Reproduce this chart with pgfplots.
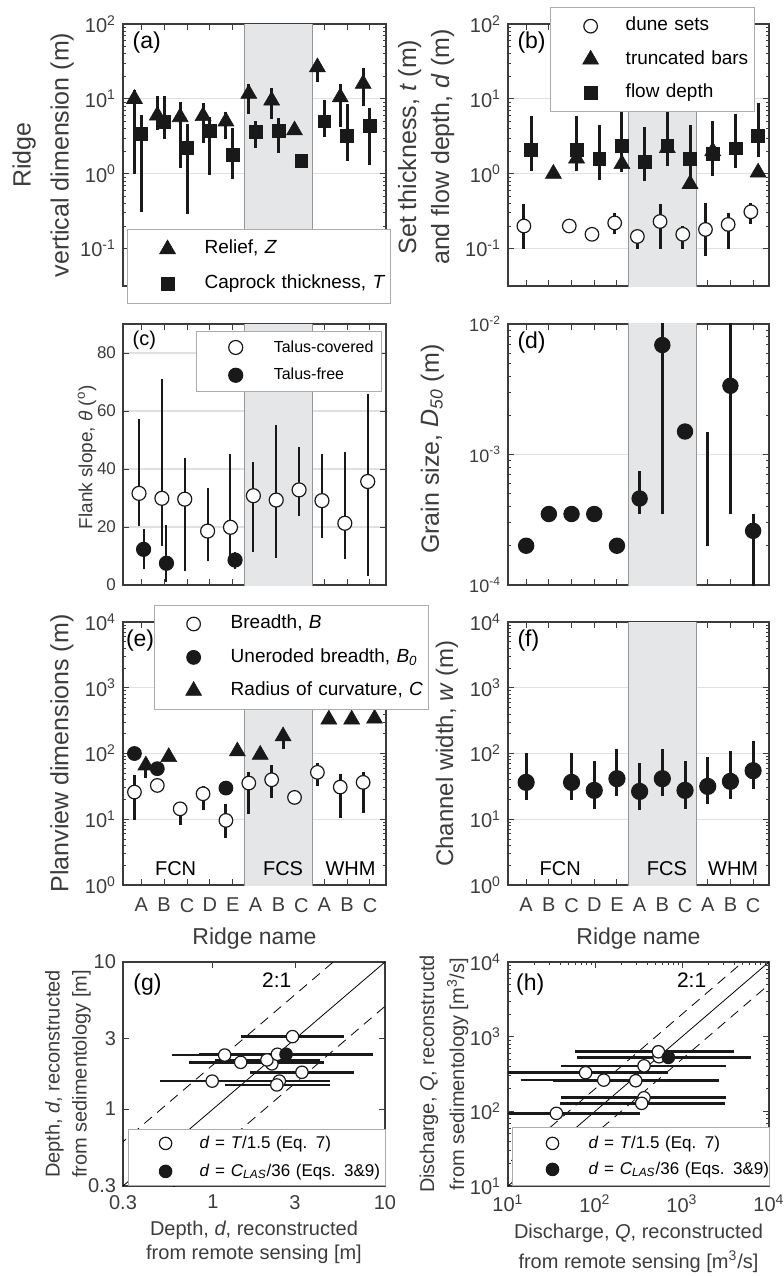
\documentclass[border=0pt]{standalone}
\usepackage{fontspec}
\setmainfont{Liberation Sans}
\usepackage{pgfplots}
\pgfplotsset{compat=1.18}

\definecolor{axcol}{RGB}{60,60,60}
\definecolor{mk}{RGB}{25,25,25}
\definecolor{bandc}{RGB}{229,230,232}
\definecolor{bandedge}{RGB}{150,150,150}
\newcommand{\tp}[1]{10\textsuperscript{#1}}
\newcommand{\fs}[2]{\fontsize{#1}{#2}\selectfont}

\pgfplotsset{
  layers/mylayers/.define layer set={axis background,axis grid,main,axis ticks,axis lines,axis tick labels,axis descriptions,axis foreground}{},
  panel/.style={scale only axis, set layers=mylayers, anchor=south west,
    axis line style={draw=axcol, line width=0.75pt},
    major tick style={draw=axcol, line width=0.5pt},
    minor tick style={draw=axcol, line width=0.4pt},
    tick align=inside, major tick length=3pt, minor tick length=1.6pt,
    tick label style={text=axcol, font=\fs{10}{12}},
    label style={text=axcol, align=center},
    y label style={anchor=center},
    x label style={anchor=center},
    grid style={draw=black!12, line width=0.6pt},
    /pgf/number format/assume math mode=true,
    unbounded coords=jump,
    legend cell align=left,
    legend style={draw=gray!65, line width=0.5pt, fill=white, text=black,
      inner xsep=0pt, anchor=north west},
  },
  cat/.style={xmin=0.2, xmax=11.7, xtick={1,...,11}, xticklabels={}, ymajorgrids},
  bars/.style={draw=mk, line width=1.5pt, mark=none, forget plot},
  band/.style={fill=bandc, draw=bandedge, line width=0.5pt, mark=none, forget plot},
  wcirc/.style={only marks, mark=*, mark size=3.4pt, mark options={solid, fill=white, draw=mk, line width=0.6pt}},
  bcirc/.style={only marks, mark=*, mark size=3.4pt, mark options={solid, fill=mk, draw=mk, line width=0.6pt}},
  tri/.style={only marks, mark=triangle*, mark size=4.6pt, mark options={solid, fill=mk, draw=mk, line width=0.3pt}},
  sq/.style={only marks, mark=square*, mark size=3.2pt, mark options={solid, fill=mk, draw=mk, line width=0.3pt}},
  % legend sample: invisible spacer #1 to the left and #2 to the right of the marker
  lg/.style 2 args={legend image code/.code={\draw[draw opacity=0, line width=0.1pt] (-#1,0pt) -- (#2,0pt); \draw[##1, draw=none] plot coordinates {(0pt,0pt)};}},
}

\begin{document}
\begin{tikzpicture}

% ---------------- (a) ----------------
\begin{axis}[panel, cat, at={(61.5pt,-143pt)}, width=131.5pt, height=131pt,
    ymode=log, ymin=0.0316, ymax=100,
    ytick={0.1,1,10,100}, yticklabels={\tp{-1},\tp{0},\tp{1},\tp{2}},
    ylabel={Ridge\\vertical dimension (m)},
    y label style={at={(axis description cs:-0.304,0.5)}, font=\fs{12.5}{19}},
    legend style={at={(0.015,0.2176)}, inner ysep=5pt, row sep=7.8pt, font=\fs{9.5}{11},
      nodes={inner sep=0pt, text height=0.72em, text depth=0.25em, text width=93pt, align=left}},
  ]
  \addplot[band] coordinates {(5.5,1e-5) (5.5,1e5) (8.5,1e5) (8.5,1e-5) (5.5,1e-5)};
  \addplot[bars] coordinates {(0.7,1.0) (0.7,13) (0.7,nan) (1.7,3.8) (1.7,11) (1.7,nan)
    (2.7,1.2) (2.7,9) (2.7,nan) (3.7,2.6) (3.7,8.8) (3.7,nan) (4.7,2.9) (4.7,6.6) (4.7,nan)
    (5.7,6.3) (5.7,16) (5.7,nan) (6.7,5.4) (6.7,14) (6.7,nan) (8.7,16.7) (8.7,33) (8.7,nan)
    (9.7,4.2) (9.7,16) (9.7,nan) (10.7,8.1) (10.7,25.7)};
  \addplot[bars] coordinates {(1,0.31) (1,6.1) (1,nan) (2,2.9) (2,11) (2,nan) (3,0.29) (3,4.6) (3,nan)
    (4,0.97) (4,5.7) (4,nan) (5,0.85) (5,4.1) (5,nan) (6,2.2) (6,5.0) (6,nan) (7,1.9) (7,5.6) (7,nan)
    (9,3.07) (9,9.7) (9,nan) (10,1.5) (10,8.6) (10,nan) (11,1.3) (11,7.6)};
  \addplot[tri, lg={20pt}{18.5pt}] coordinates {(0.7,10) (1.7,6.0) (2.7,5.7) (3.7,5.9) (4.7,5.0)
    (5.7,11.7) (6.7,9.5) (7.7,3.8) (8.7,26.5) (9.7,10.5) (10.7,15.9)};
  \addlegendentry{Relief, \textit{Z}}
  \addplot[sq, lg={20pt}{18.5pt}] coordinates {(1,3.4) (2,4.9) (3,2.2) (4,3.7) (5,1.8) (6,3.6)
    (7,3.7) (8,1.5) (9,5.0) (10,3.2) (11,4.4)};
  \addlegendentry{Caprock thickness, \textit{T}}
  \node[anchor=north west, inner sep=0pt, font=\fs{11.5}{13}] at (rel axis cs:0.035,0.97) {(a)};
\end{axis}

% ---------------- (b) ----------------
\begin{axis}[panel, cat, at={(254pt,-143pt)}, width=130.5pt, height=131pt,
    ymode=log, ymin=0.0316, ymax=100,
    ytick={0.1,1,10,100}, yticklabels={\tp{-1},\tp{0},\tp{1},\tp{2}},
    ylabel={Set thickness, \textit{t} (m)\\and flow depth, \textit{d} (m)},
    y label style={at={(axis description cs:-0.314,0.53)}, font=\fs{12.5}{16.5}},
    legend style={at={(0.161,1.065)}, inner ysep=4.5pt, row sep=7pt, font=\fs{9.5}{11},
      nodes={inner sep=0pt, text height=0.72em, text depth=0.25em, text width=64.5pt, align=left}},
  ]
  \addplot[band] coordinates {(5.5,1e-5) (5.5,1e5) (8.5,1e5) (8.5,1e-5) (5.5,1e-5)};
  \addplot[bars] coordinates {(0.9,0.1) (0.9,0.39) (0.9,nan) (4.9,0.155) (4.9,0.3) (4.9,nan)
    (5.9,0.1) (5.9,0.16) (5.9,nan) (6.9,0.1) (6.9,0.39) (6.9,nan) (7.9,0.1) (7.9,0.2) (7.9,nan)
    (8.9,0.08) (8.9,0.41) (8.9,nan) (9.9,0.1) (9.9,0.3) (9.9,nan) (10.9,0.21) (10.9,0.41)};
  \addplot[bars] coordinates {(1.22,1.1) (1.22,5.9) (1.22,nan) (3.22,1.1) (3.22,5.9) (3.22,nan)
    (4.22,0.83) (4.22,4.5) (4.22,nan) (5.22,1.05) (5.22,6.6) (5.22,nan) (6.22,0.79) (6.22,4.2) (6.22,nan)
    (7.22,1.25) (7.22,6.6) (7.22,nan) (8.22,0.8) (8.22,4.5) (8.22,nan) (9.22,0.94) (9.22,5.0) (9.22,nan)
    (10.22,1.18) (10.22,6.2) (10.22,nan) (11.22,1.67) (11.22,8.7)};
  \addplot[wcirc, lg={20pt}{17.5pt}] coordinates {(0.9,0.2) (2.9,0.2) (3.9,0.155) (4.9,0.22)
    (5.9,0.145) (6.9,0.23) (7.9,0.155) (8.9,0.18) (9.9,0.21) (10.9,0.31)};
  \addlegendentry{dune sets}
  \addplot[sq, forget plot] coordinates {(1.22,2.07) (3.22,2.07) (4.22,1.57) (5.22,2.37) (6.22,1.46)
    (7.22,2.37) (8.22,1.57) (9.22,1.83) (10.22,2.18) (11.22,3.2)};
  \addplot[tri, lg={20pt}{17.5pt}] coordinates {(2.2,1.0) (3.22,1.6) (5.22,1.35) (7.22,2.2)
    (8.22,0.73) (9.22,2.0) (11.22,1.04)};
  \addlegendentry{truncated bars}
  \addlegendimage{sq, lg={20pt}{17.5pt}}
  \addlegendentry{flow depth}
  \node[anchor=north west, inner sep=0pt, font=\fs{11.5}{13}] at (rel axis cs:0.035,0.97) {(b)};
\end{axis}

% ---------------- (c) ----------------
\begin{axis}[panel, cat, at={(61.5pt,-292.5pt)}, width=131.5pt, height=130.5pt,
    ymin=0, ymax=90, ytick={0,20,40,60,80},
    tick label style={font=\fs{8.5}{10}},
    ylabel={Flank slope, \textit{θ} (\textsuperscript{o})},
    y label style={at={(axis description cs:-0.137,0.49)}, font=\fs{9.5}{11}},
    legend style={at={(0.278,0.973)}, inner ysep=3.1pt, row sep=4.2pt, font=\fs{8}{9.5},
      nodes={inner sep=0pt, text height=0.72em, text depth=0.25em, text width=54pt, align=left}},
  ]
  \addplot[band] coordinates {(5.5,-10) (5.5,200) (8.5,200) (8.5,-10) (5.5,-10)};
  \addplot[bars, line width=1pt] coordinates {(0.9,20.4) (0.9,57.3) (0.9,nan) (1.9,13.6) (1.9,71) (1.9,nan)
    (2.9,4.9) (2.9,43.7) (2.9,nan) (3.9,8.4) (3.9,33.4) (3.9,nan) (4.9,9) (4.9,45.2) (4.9,nan)
    (5.9,11.3) (5.9,42.3) (5.9,nan) (6.9,9.4) (6.9,55.2) (6.9,nan) (7.9,23.9) (7.9,47.5) (7.9,nan)
    (8.9,16.3) (8.9,45.2) (8.9,nan) (9.9,8.9) (9.9,46) (9.9,nan) (10.9,3.2) (10.9,65.8)};
  \addplot[bars, line width=1pt] coordinates {(1.1,5.4) (1.1,19.3) (1.1,nan) (2.1,1.2) (2.1,20.7) (2.1,nan)
    (5.1,5.5) (5.1,11.3)};
  \addplot[wcirc, mark size=3.5pt, lg={19.5pt}{19pt}] coordinates {(0.9,31.6) (1.9,29.9) (2.9,29.6)
    (3.9,18.6) (4.9,19.9) (5.9,30.8) (6.9,29.3) (7.9,32.8) (8.9,29.1) (9.9,21.3) (10.9,35.7)};
  \addlegendentry{Talus-covered}
  \addplot[bcirc, mark size=3.5pt, lg={19.5pt}{19pt}] coordinates {(1.1,12.3) (2.1,7.5) (5.1,8.6)};
  \addlegendentry{Talus-free}
  \node[anchor=north west, inner sep=0pt, font=\fs{10}{12}] at (rel axis cs:0.035,0.975) {(c)};
\end{axis}

% ---------------- (d) ----------------
\begin{axis}[panel, cat, at={(254pt,-292.5pt)}, width=130.5pt, height=130.5pt,
    ymode=log, ymin=1e-4, ymax=1e-2,
    ytick={1e-4,1e-3,1e-2}, yticklabels={\tp{-4},\tp{-3},\tp{-2}},
    tick label style={font=\fs{9}{11}},
    ylabel={Grain size, \textit{D}\textsubscript{\textit{50}} (m)},
    y label style={at={(axis description cs:-0.29,0.52)}, font=\fs{12.5}{14}},
  ]
  \addplot[band] coordinates {(5.5,1e-6) (5.5,1) (8.5,1) (8.5,1e-6) (5.5,1e-6)};
  \addplot[bars] coordinates {(6,3.5e-4) (6,7.5e-4) (6,nan) (7,3.5e-4) (7,2e-2) (7,nan)
    (9,2e-4) (9,1.5e-3) (9,nan) (10,3.5e-4) (10,2e-2) (10,nan) (11,5e-5) (11,3.5e-4)};
  \addplot[bcirc, mark size=3.8pt] coordinates {(1,2e-4) (2,3.5e-4) (3,3.5e-4) (4,3.5e-4) (5,2e-4)
    (6,4.6e-4) (7,6.9e-3) (8,1.5e-3) (10,3.36e-3) (11,2.6e-4)};
  \node[anchor=north west, inner sep=0pt, font=\fs{11.5}{13}] at (rel axis cs:0.035,0.97) {(d)};
\end{axis}

% ---------------- (e) ----------------
\begin{axis}[panel, cat, at={(61.5pt,-442.5pt)}, width=131.5pt, height=131.5pt,
    ymode=log, ymin=1, ymax=1e4,
    ytick={1,10,100,1000,10000}, yticklabels={\tp{0},\tp{1},\tp{2},\tp{3},\tp{4}},
    xticklabels={A,B,C,D,E,A,B,C,A,B,C},
    xticklabel style={yshift=-3pt},
    ylabel={Planview dimensions (m)}, xlabel={Ridge name},
    y label style={at={(axis description cs:-0.232,0.5)}, font=\fs{12.5}{14}},
    x label style={at={(axis description cs:0.5,-0.205)}, font=\fs{11.5}{13}},
    legend style={at={(0.118,1.065)}, inner ysep=4.45pt, row sep=7pt, font=\fs{9.5}{11},
      nodes={inner sep=0pt, text height=0.72em, text depth=0.25em, text width=99pt, align=left}},
  ]
  \addplot[band] coordinates {(5.5,0.01) (5.5,1e6) (8.5,1e6) (8.5,0.01) (5.5,0.01)};
  \addplot[bars] coordinates {(0.7,9.8) (0.7,47.6) (0.7,nan) (2.7,8.2) (2.7,18.6) (2.7,nan)
    (3.7,13.9) (3.7,31.6) (3.7,nan) (4.7,5.1) (4.7,17.2) (4.7,nan) (5.7,12.1) (5.7,52.4) (5.7,nan)
    (6.7,20.9) (6.7,67.6) (6.7,nan) (8.7,31.6) (8.7,71.6) (8.7,nan) (9.7,10.4) (9.7,48.7) (9.7,nan)
    (10.7,12.4) (10.7,51.5)};
  \addplot[bars] coordinates {(1.2,41.7) (1.2,85) (1.2,nan) (7.2,117) (7.2,183)};
  \addplot[wcirc, lg={19.5pt}{18.5pt}] coordinates {(0.7,25.9) (1.7,32.7) (2.7,14.4) (3.7,24.4)
    (4.7,9.6) (5.7,35.5) (6.7,39.9) (7.7,21.5) (8.7,51.7) (9.7,30.9) (10.7,36.4)};
  \addlegendentry{Breadth, \textit{B}}
  \addplot[bcirc, lg={19.5pt}{18.5pt}] coordinates {(0.7,100) (1.7,58.8) (4.7,29.8)};
  \addlegendentry{Uneroded breadth, \textit{B}\textsubscript{\textit{0}}}
  \addplot[tri, lg={19.5pt}{18.5pt}] coordinates {(1.2,66) (2.2,88.5) (5.2,108) (6.2,96) (7.2,183)
    (9.2,329) (10.2,329) (11.2,340)};
  \addlegendentry{Radius of curvature, \textit{C}}
  \node[anchor=north west, inner sep=0pt, font=\fs{11.5}{13}] at (rel axis cs:0.01,0.97) {(e)};
  \node[font=\fs{10}{12}] at (axis cs:2.5,1.75) {FCN};
  \node[font=\fs{10}{12}] at (axis cs:7.2,1.75) {FCS};
  \node[font=\fs{10}{12}] at (axis cs:10.15,1.75) {WHM};
\end{axis}

% ---------------- (f) ----------------
\begin{axis}[panel, cat, at={(254pt,-442.5pt)}, width=130.5pt, height=131.5pt,
    ymode=log, ymin=1, ymax=1e4,
    ytick={1,10,100,1000,10000}, yticklabels={\tp{0},\tp{1},\tp{2},\tp{3},\tp{4}},
    xticklabels={A,B,C,D,E,A,B,C,A,B,C},
    xticklabel style={yshift=-3pt},
    ylabel={Channel width, \textit{w} (m)}, xlabel={Ridge name},
    y label style={at={(axis description cs:-0.234,0.5)}, font=\fs{12}{14}},
    x label style={at={(axis description cs:0.5,-0.205)}, font=\fs{11.5}{13}},
  ]
  \addplot[band] coordinates {(5.5,0.01) (5.5,1e6) (8.5,1e6) (8.5,0.01) (5.5,0.01)};
  \addplot[bars] coordinates {(1,19.4) (1,101) (1,nan) (3,19.4) (3,101) (3,nan) (4,14.4) (4,78) (4,nan)
    (5,22.2) (5,118) (5,nan) (6,13.6) (6,71.6) (6,nan) (7,22.2) (7,118) (7,nan) (8,14.4) (8,78) (8,nan)
    (9,17) (9,88) (9,nan) (10,20.5) (10,110) (10,nan) (11,29.1) (11,157)};
  \addplot[bcirc, mark size=4pt] coordinates {(1,36.4) (3,36.4) (4,27.5) (5,41.4) (6,26.5)
    (7,41.4) (8,27.5) (9,31.6) (10,37.7) (11,54.8)};
  \node[anchor=north west, inner sep=0pt, font=\fs{11.5}{13}] at (rel axis cs:0.035,0.97) {(f)};
  \node[font=\fs{10}{12}] at (axis cs:2.5,1.75) {FCN};
  \node[font=\fs{10}{12}] at (axis cs:7.2,1.75) {FCS};
  \node[font=\fs{10}{12}] at (axis cs:10.12,1.75) {WHM};
\end{axis}

% ---------------- (g) ----------------
\begin{axis}[panel, at={(61.5pt,-593pt)}, width=131pt, height=112pt,
    xmode=log, ymode=log, xmin=0.3, xmax=10, ymin=0.3, ymax=10,
    xtick={0.3,1,3,10}, xticklabels={0.3,1,3,10},
    ytick={0.3,1,3,10}, yticklabels={0.3,1,3,10},
    minor xtick={}, minor ytick={},
    xticklabel style={yshift=-1pt},
    ylabel={Depth, \textit{d}, reconstructed\\from sedimentology [m]},
    xlabel={Depth, \textit{d}, reconstructed\\from remote sensing [m]},
    y label style={at={(axis description cs:-0.21,0.5)}, font=\fs{10}{13.5}},
    x label style={at={(axis description cs:0.5,-0.25)}, font=\fs{10}{12}},
    legend style={at={(0.019,0)}, anchor=south west, inner ysep=2.2pt, row sep=4.3pt, font=\fs{8.5}{10},
      nodes={inner sep=0pt, text height=0.72em, text depth=0.25em, text width=93pt, align=left}},
  ]
  \addplot[black, line width=0.4pt, mark=none, forget plot] coordinates {(0.1,0.1) (100,100)};
  \addplot[black, line width=0.4pt, dash pattern=on 5pt off 3.5pt, mark=none, forget plot] coordinates {(0.1,0.2) (100,200)};
  \addplot[black, line width=0.4pt, dash pattern=on 5pt off 3.5pt, mark=none, forget plot] coordinates {(0.1,0.05) (100,50)};
  \addplot[bars, line width=1.3pt] coordinates {(1.46,3.11) (5.8,3.11) (nan,nan) (0.58,2.33) (2.93,2.33) (nan,nan)
    (0.73,2.08) (4.4,2.08) (nan,nan) (1.03,2.16) (4.2,2.16) (nan,nan) (0.49,1.55) (4.8,1.55) (nan,nan)
    (1.64,1.78) (6.6,1.78) (nan,nan) (1.18,1.46) (4.8,1.46) (nan,nan) (0.83,2.36) (8.5,2.36)};
  \addplot[wcirc, mark size=3.1pt, lg={18.5pt}{17pt}] coordinates {(2.90,3.11) (1.17,2.33) (1.45,2.08)
    (2.20,2.03) (2.06,2.16) (2.37,2.36) (3.29,1.78) (0.99,1.55) (2.43,1.55) (2.35,1.46)};
  \addlegendentry{\textit{d} = \textit{T}/1.5 (Eq. 7)}
  \addplot[bcirc, mark size=3.1pt, lg={18.5pt}{17pt}] coordinates {(2.66,2.36)};
  \addlegendentry{\textit{d} = \textit{C}\textsubscript{\textit{LAS}}/36 (Eqs. 3\&9)}
  \node[anchor=north west, inner sep=0pt, font=\fs{11.5}{13}] at (rel axis cs:0.038,0.95) {(g)};
  \node[font=\fs{10.5}{12}] at (axis cs:2.35,7.55) {2:1};
\end{axis}

% ---------------- (h) ----------------
\begin{axis}[panel, at={(254pt,-593pt)}, width=130.5pt, height=112pt,
    xmode=log, ymode=log, xmin=10, xmax=1e4, ymin=10, ymax=1e4,
    xtick={10,100,1000,10000}, xticklabels={\tp{1},\tp{2},\tp{3},\tp{4}},
    ytick={10,100,1000,10000}, yticklabels={\tp{1},\tp{2},\tp{3},\tp{4}},
    xticklabel style={yshift=-1pt},
    ylabel={Discharge, \textit{Q}, reconstructd\\from sedimentology [m\textsuperscript{3}/s]},
    xlabel={Discharge, \textit{Q}, reconstructed\\from remote sensing [m\textsuperscript{3}/s]},
    y label style={at={(axis description cs:-0.245,0.5)}, font=\fs{10}{15}},
    x label style={at={(axis description cs:0.5,-0.277)}, font=\fs{10}{15}},
    legend style={at={(0.015,0)}, anchor=south west, inner ysep=3.2pt, row sep=3.3pt, font=\fs{8.5}{10},
      nodes={inner sep=0pt, text height=0.72em, text depth=0.25em, text width=90.5pt, align=left}},
  ]
  \addplot[black, line width=0.4pt, mark=none, forget plot] coordinates {(1,1) (1e5,1e5)};
  \addplot[black, line width=0.4pt, dash pattern=on 5pt off 3.5pt, mark=none, forget plot] coordinates {(1,2) (1e5,2e5)};
  \addplot[black, line width=0.4pt, dash pattern=on 5pt off 3.5pt, mark=none, forget plot] coordinates {(1,0.5) (1e5,5e4)};
  \addplot[bars, line width=1.3pt] coordinates {(59,628) (3981,628) (nan,nan) (62,528) (6166,528) (nan,nan)
    (41,407) (3236,407) (nan,nan) (8,329) (692,329) (nan,nan) (14,262) (1122,262) (nan,nan)
    (33,257) (2630,257) (nan,nan) (41,152) (3236,152) (nan,nan) (40,128) (3090,128) (nan,nan)
    (8,94) (331,94)};
  \addplot[wcirc, mark size=3.1pt, lg={20pt}{18pt}] coordinates {(544,538) (535,628) (366,407) (78,329)
    (126,262) (294,257) (366,152) (344,128) (36,94)};
  \addlegendentry{\textit{d} = \textit{T}/1.5 (Eq. 7)}
  \addplot[bcirc, mark size=3.1pt, lg={20pt}{18pt}] coordinates {(697,528)};
  \addlegendentry{\textit{d} = \textit{C}\textsubscript{\textit{LAS}}/36 (Eqs. 3\&9)}
  \node[anchor=north west, inner sep=0pt, font=\fs{11.5}{13}] at (rel axis cs:0.03,0.95) {(h)};
  \node[font=\fs{10.5}{12}] at (axis cs:1290,5750) {2:1};
\end{axis}

\pgfresetboundingbox
\useasboundingbox (0,0) rectangle (391.5pt,-638pt);
\end{tikzpicture}
\end{document}
